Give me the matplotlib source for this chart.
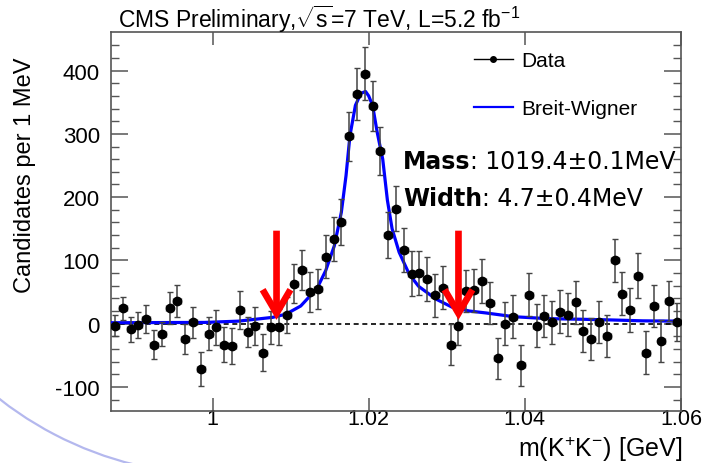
import matplotlib
matplotlib.use("Agg")
import matplotlib.pyplot as plt
import numpy as np
from matplotlib.lines import Line2D
from matplotlib.patches import Arc

# background-subtracted candidates per 1 MeV bin
candidates = [-3, 24, -9, -2, 8, -33, -17, 25, 36, -24,
              2, -71, -16, -6, -33, -35, 22, -13, -3, -46,
              -6, -5, 14, 63, 85, 50, 55, 106, 134, 161,
              296, 363, 395, 344, 273, 140, 182, 117, 79, 80,
              71, 45, 57, -33, -3, 52, 53, 67, 33, -55,
              0, 11, -66, 46, -3, 12, 2, 19, 14, 34,
              -11, -24, 3, -19, 100, 47, 22, 76, -46, 28,
              -27, 36, 3]
errors = [16, 18, 20, 21, 22, 23, 19, 25, 25, 24,
          25, 27, 26, 28, 27, 28, 30, 24, 30, 29,
          26, 28, 28, 31, 32, 32, 32, 34, 35, 36,
          39, 41, 42, 40, 38, 36, 36, 35, 36, 35,
          35, 34, 34, 33, 30, 33, 34, 35, 33, 33,
          34, 34, 32, 34, 34, 33, 34, 34, 34, 34,
          33, 33, 33, 33, 34, 34, 35, 35, 34, 33,
          33, 32, 30]
bin_width = 0.001
bin_centers = np.round(0.9875 + bin_width * np.arange(len(candidates)), 4)

# Breit-Wigner fit curve, sampled from the plot
curve_x = [0.987, 0.999, 1.0033, 1.0077, 1.0094, 1.0113, 1.0134, 1.0145,
           1.0156, 1.0165, 1.0171, 1.0176, 1.0183, 1.0190, 1.0196, 1.0200,
           1.0205, 1.0211, 1.0218, 1.0224, 1.0230, 1.0239, 1.0252, 1.0264,
           1.0286, 1.0307, 1.0329, 1.0350, 1.0386, 1.0429, 1.0472, 1.0508,
           1.0551, 1.060]
curve_y = [1.5, 2, 4, 10, 15, 28, 56, 84,
           123, 176, 234, 297, 345, 364, 367, 360,
           345, 302, 260, 195, 150, 113, 78, 59,
           39, 26, 20, 17, 11, 8, 7, 6,
           4.5, 4]

arrow_x = [1.0082, 1.0315]
arrow_top = 147
arrow_tip = 6

xtick_vals = [1.0, 1.02, 1.04, 1.06]
xtick_labels = ["1", "1.02", "1.04", "1.06"]
ytick_vals = [-100, 0, 100, 200, 300, 400]
ytick_labels = ["-100", "0", "100", "200", "300", "400"]

W, H = 704, 464


def main() -> None:
    plt.rcParams["font.family"] = ["Liberation Sans", "DejaVu Sans"]
    plt.rcParams["mathtext.fontset"] = "custom"
    plt.rcParams["mathtext.rm"] = "Liberation Sans"
    plt.rcParams["axes.unicode_minus"] = False

    fig = plt.figure(figsize=(W / 100, H / 100), dpi=100)

    # slide decoration arc in the lower-left corner
    bg = fig.add_axes([0, 0, 1, 1], zorder=0)
    bg.set_xlim(0, W)
    bg.set_ylim(H, 0)
    bg.axis("off")
    bg.add_patch(Arc((220, 118), 716, 716, theta1=90, theta2=145,
                     ec="#b4b8ee", lw=1.6))

    ax = fig.add_axes([111 / W, 52 / H, 570 / W, 379 / H], zorder=1)
    ax.set_xlim(0.987, 1.06)
    ax.set_ylim(-138, 461)

    ax.axhline(0, color="black", lw=1.2, ls=(0, (3.0, 2.2)), zorder=2)
    ax.plot(curve_x, curve_y, color="#0000ff", lw=2.3, zorder=3)
    ax.errorbar(bin_centers, candidates, yerr=errors, xerr=bin_width / 2,
                fmt="o", color="black", ms=6, ecolor="#444444",
                elinewidth=1.1, capsize=2, capthick=1.0, zorder=4)

    for xa in arrow_x:
        ax.annotate("", xy=(xa, arrow_tip), xytext=(xa, arrow_top),
                    arrowprops=dict(arrowstyle="->,head_length=0.85,head_width=0.5",
                                    color="#ff0000", lw=4.8, shrinkA=0, shrinkB=0,
                                    joinstyle="miter", capstyle="butt",
                                    mutation_scale=20),
                    zorder=5)

    ax.set_xticks(xtick_vals, xtick_labels)
    ax.set_yticks(ytick_vals, ytick_labels)
    ax.set_yticks(np.arange(-120, 460, 20), minor=True)
    ax.tick_params(which="both", direction="in", top=True, right=True,
                   color="#555555", labelcolor="black")
    ax.tick_params(axis="x", which="major", length=9.5, width=1.1, labelsize=15.5, pad=-2.3)
    ax.tick_params(axis="y", which="major", length=12, width=1.1, labelsize=16, pad=8)
    ax.tick_params(axis="y", which="minor", length=6, width=1.0)
    for sp in ax.spines.values():
        sp.set_color("#555555")
        sp.set_linewidth(1.2)

    handles = [Line2D([], [], color="black", lw=1.0, marker="o", ms=4),
               Line2D([], [], color="#0000ff", lw=1.6)]
    ax.legend(handles, ["Data", "Breit-Wigner"], loc="upper left",
              bbox_to_anchor=(474 / W, 1 - 52 / H), bbox_transform=fig.transFigure,
              frameon=False, fontsize=15, handlelength=1.87, handletextpad=0.38,
              labelspacing=1.4, borderpad=0, borderaxespad=0)

    fig.text(118 / W, 1 - 28 / H,
             r"CMS Preliminary,$\sqrt{\mathrm{s}}$=7 TeV, L=5.2 fb$^{\mathrm{-1}}$",
             fontsize=16.5, va="baseline")
    fig.text(25 / W, 1 - 175 / H, "Candidates per 1 MeV", rotation=90,
             fontsize=17, ha="center", va="center")
    fig.text(682 / W, 1 - 449.5 / H, r"m(K$^{\mathrm{+}}$K$^{\mathrm{-}}$) [GeV]",
             fontsize=18, ha="right", va="center")

    for label, value, ybase in [("Mass", ": 1019.4±0.1MeV", 169),
                                ("Width", ": 4.7±0.4MeV", 206)]:
        tb = fig.text(403 / W, 1 - ybase / H, label, fontsize=17,
                      fontweight="bold", family="DejaVu Sans", va="baseline")
        ax.annotate(value, xy=(1, 0), xycoords=tb, ha="left", va="bottom",
                    fontsize=17, family="DejaVu Sans", annotation_clip=False)

    fig.savefig("out.png", dpi=100)
    plt.close(fig)


if __name__ == "__main__":
    main()
